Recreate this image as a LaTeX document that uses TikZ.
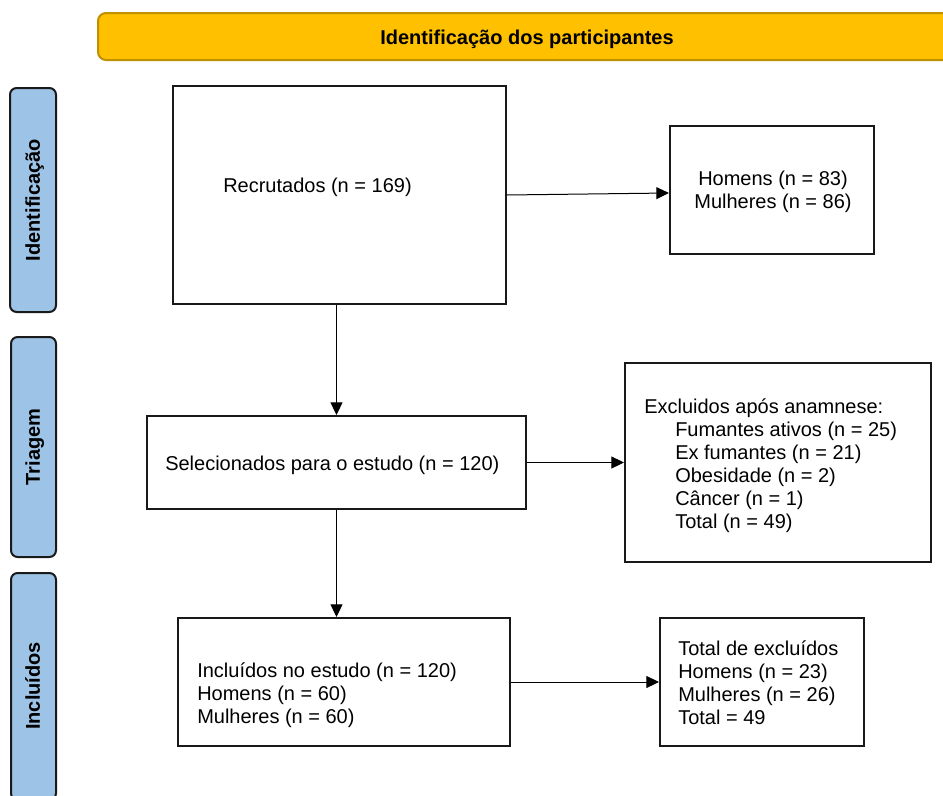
\documentclass[tikz,border=0pt]{standalone}
\usepackage{fontspec}
\setmainfont{Liberation Sans}
\usetikzlibrary{arrows.meta,calc,fit}
\definecolor{bannerfill}{HTML}{FFC000}
\definecolor{bannerline}{HTML}{BF9000}
\definecolor{sidefill}{HTML}{9DC3E6}
\definecolor{sideline}{HTML}{1A1A1A}
\begin{document}
\begin{tikzpicture}[x=0.75pt,y=-0.75pt,
  box/.style={draw=black!90,line width=1.5pt,inner sep=0pt},
  sidebox/.style={draw=sideline,fill=sidefill,line width=1.5pt,rounded corners=5pt,inner sep=0pt},
  lbl/.style={font=\fontsize{15}{17.25}\selectfont,inner sep=0pt,align=left},
  sidetxt/.style={font=\fontsize{15}{17.25}\selectfont\bfseries,inner sep=0pt,rotate=90,anchor=base},
  conn/.style={line width=0.75pt,-{Triangle[length=9.5pt,width=9pt]}}]
\clip (0,0) rectangle (943,796);
\fill[white] (0,0) rectangle (943,796);
% banner
\node[draw=bannerline,fill=bannerfill,line width=1.5pt,rounded corners=6pt,inner sep=0pt,fit={(98,13)(965,60)}] (banner) {};
\node[font=\fontsize{15}{17.25}\selectfont\bfseries,inner sep=0pt,anchor=base] (bannertxt) at (527,44) {Identificação dos participantes};
% side labels
\node[sidebox,fit={(10,88)(56,312)}] (s1) {};
\node[sidetxt] (s1t) at (40,200) {Identificação};
\node[sidebox,fit={(11,337)(56,557)}] (s2) {};
\node[sidetxt] (s2t) at (40,447) {Triagem};
\node[sidebox,fit={(11,573)(56,800)}] (s3) {};
\node[sidetxt] (s3t) at (40,686) {Incluídos};
% boxes
\node[box,fit={(173,86)(506,304)}] (rec) {};
\node[box,fit={(670,126)(874,254)}] (hom) {};
\node[box,fit={(147,416)(526,509)}] (sel) {};
\node[box,fit={(625,363)(931,562)}] (exc) {};
\node[box,fit={(178,618)(510,746)}] (inc) {};
\node[box,fit={(660,618)(864,746)}] (tot) {};
% texts (base anchor = baseline of last line)
\node[lbl,anchor=base west] (rect) at (223,192) {Recrutados (n = 169)};
\node[lbl,align=center,anchor=base] (homt) at (773,208) {Homens (n = 83)\\Mulheres (n = 86)};
\node[lbl,anchor=base west] (selt) at (165,470) {Selecionados para o estudo (n = 120)};
\node[lbl,anchor=base west] (exct) at (644,528) {Excluidos após anamnese:\\
\hspace*{23.25pt}Fumantes ativos (n = 25)\\
\hspace*{23.25pt}Ex fumantes (n = 21)\\
\hspace*{23.25pt}Obesidade (n = 2)\\
\hspace*{23.25pt}Câncer (n = 1)\\
\hspace*{23.25pt}Total (n = 49)};
\node[lbl,anchor=base west] (inct) at (197,723) {Incluídos no estudo (n = 120)\\Homens (n = 60)\\Mulheres (n = 60)};
\node[lbl,anchor=base west] (tott) at (678,724) {Total de excluídos\\Homens (n = 23)\\Mulheres (n = 26)\\Total = 49};
% connectors
\draw[conn] (rec.east) -- ([yshift=-2.25pt]hom.west);
\draw[conn] (rec.south -| sel.north) -- (sel.north);
\draw[conn] (sel.east) -- (exc.west);
\draw[conn] (sel.south) -- (sel.south |- inc.north);
\draw[conn] (inc.east) -- (tot.west);
\end{tikzpicture}
\end{document}
